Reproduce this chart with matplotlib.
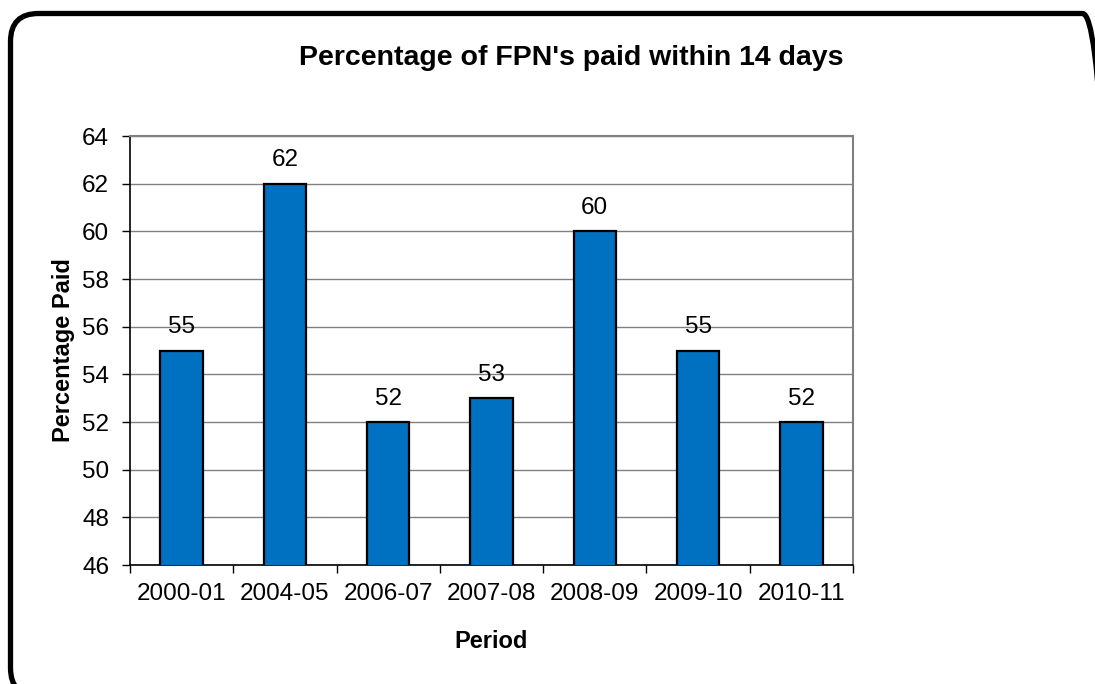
import matplotlib
matplotlib.use('Agg')
import matplotlib.pyplot as plt
from matplotlib.patches import FancyBboxPatch

periods = ['2000-01', '2004-05', '2006-07', '2007-08', '2008-09', '2009-10', '2010-11']
percent_paid = [55, 62, 52, 53, 60, 55, 52]
y_ticks = list(range(46, 65, 2))

plt.rcParams['font.family'] = ['Liberation Sans', 'DejaVu Sans']

fig = plt.figure(figsize=(10.95, 6.84), dpi=100)
ax = fig.add_axes([130 / 1095, 119 / 684, 723 / 1095, 429 / 684])

x = list(range(len(periods)))
ax.bar(x, percent_paid, width=0.41, color='#0070C0', edgecolor='black',
       linewidth=1.6, zorder=3)

for xi, v in zip(x, percent_paid):
    ax.annotate(str(v), (xi, v), xytext=(0, 9), textcoords='offset points',
                ha='center', va='bottom', fontsize=17.5, color='black')

ax.set_ylim(46, 64)
ax.set_xlim(-0.5, len(periods) - 0.5)
ax.set_yticks(y_ticks)
ax.set_xticks(x)
ax.set_xticklabels(periods)
ax.set_xticks([i - 0.5 for i in range(len(periods) + 1)], minor=True)

ax.grid(axis='y', color='#808080', linewidth=1, zorder=0)
ax.tick_params(axis='y', direction='out', length=6, width=1, pad=9,
               labelsize=17.5, color='black')
ax.tick_params(axis='x', which='major', length=0, pad=13, labelsize=17.5)
ax.tick_params(axis='x', which='minor', direction='out', length=6, width=1,
               color='black')

ax.spines['left'].set_color('black')
ax.spines['left'].set_linewidth(1.2)
ax.spines['bottom'].set_color('black')
ax.spines['bottom'].set_linewidth(1.2)
ax.spines['top'].set_color('#808080')
ax.spines['right'].set_color('#808080')
ax.spines['top'].set_linewidth(1.5)
ax.spines['right'].set_linewidth(1.5)

ax.set_xlabel('Period', fontsize=17, fontweight='bold', labelpad=18)
ax.set_ylabel('Percentage Paid', fontsize=17, fontweight='bold', labelpad=5)

fig.text(571 / 1095, 1 - 58 / 684, "Percentage of FPN's paid within 14 days",
         ha='center', va='center', fontsize=20.5, fontweight='bold')

# rounded border around the chart, in inches
border = FancyBboxPatch((0.105, -0.12), 11.0, 6.825,
                        boxstyle='round,pad=0,rounding_size=0.28',
                        transform=fig.dpi_scale_trans, facecolor='none',
                        edgecolor='black', linewidth=3.8)
fig.patches.append(border)

fig.savefig('out.png', dpi=100)
